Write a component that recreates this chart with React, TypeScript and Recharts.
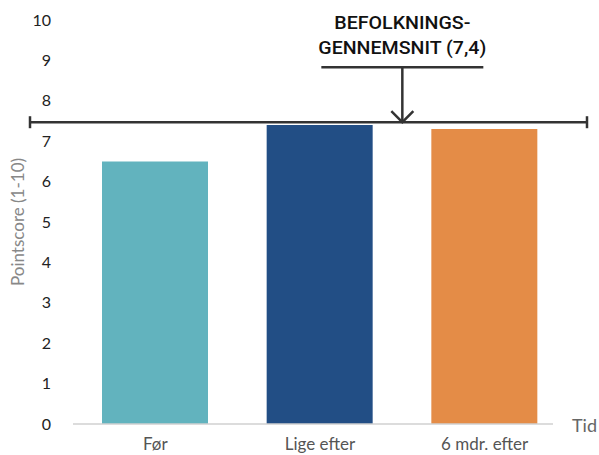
import React from "react";
import {
  BarChart,
  Bar,
  XAxis,
  YAxis,
  Cell,
  ReferenceLine,
  Label,
} from "recharts";

const categories = ["Før", "Lige efter", "6 mdr. efter"];
const scores = [6.5, 7.4, 7.3];
const yTicks = [0, 1, 2, 3, 4, 5, 6, 7, 8, 9, 10];
const averageLine = 7.47;
const averageText = ["BEFOLKNINGS-", "GENNEMSNIT (7,4)"];

const BAR_COLORS = ["#62b3be", "#224e85", "#e48c47"];
const TEXT_FONT = "Lato, 'Open Sans', sans-serif";

const data = categories.map((name, i) => ({ name, value: scores[i] }));

const AverageShape = (props: any) => {
  const { x1, x2, y1 } = props;
  const left = x1 - 43;
  const right = x2 + 34;
  // arrow points at the gap between the 2nd and 3rd bar
  const arrowX = x1 + ((x2 + 14 - x1) * 2) / 3;
  const barTop = y1 - 55;
  const stroke = "#333";
  return (
    <g>
      <line x1={left} x2={right} y1={y1} y2={y1} stroke={stroke} strokeWidth={2.5} />
      <line x1={left} x2={left} y1={y1 - 6} y2={y1 + 6} stroke={stroke} strokeWidth={2.5} />
      <line x1={right} x2={right} y1={y1 - 6} y2={y1 + 6} stroke={stroke} strokeWidth={2.5} />
      <line x1={arrowX - 81} x2={arrowX + 81} y1={barTop} y2={barTop} stroke={stroke} strokeWidth={2.5} />
      <line x1={arrowX} x2={arrowX} y1={barTop} y2={y1} stroke={stroke} strokeWidth={2.5} />
      <polyline
        points={`${arrowX - 11},${y1 - 11} ${arrowX},${y1} ${arrowX + 11},${y1 - 11}`}
        fill="none"
        stroke={stroke}
        strokeWidth={2.5}
      />
      <text
        textAnchor="middle"
        fontFamily="Roboto, 'DejaVu Sans', sans-serif"
        fontWeight={500}
        fontSize={19}
        fill="#111"
      >
        <tspan x={arrowX} y={y1 - 93} textLength={136} lengthAdjust="spacingAndGlyphs">
          {averageText[0]}
        </tspan>
        <tspan x={arrowX} y={y1 - 68} textLength={168} lengthAdjust="spacingAndGlyphs">
          {averageText[1]}
        </tspan>
      </text>
    </g>
  );
};

export default function App() {
  return (
    <div style={{ position: "absolute", left: 0, top: 0, background: "#fff" }}>
      <BarChart
        width={599}
        height={455}
        data={data}
        margin={{ top: 20, right: 46, left: 0, bottom: 0 }}
      >
        <XAxis
          dataKey="name"
          height={31}
          padding={{ left: 0, right: -14 }}
          axisLine={{ stroke: "#d0d0d0", strokeWidth: 1.5 }}
          tickLine={false}
          tickMargin={8}
          tick={{ fill: "#555", fontSize: 17, fontFamily: TEXT_FONT }}
        >
          <Label
            value="Tid"
            position="right"
            offset={19}
            dy={-14}
            fill="#666"
            fontSize={18}
            fontFamily={TEXT_FONT}
          />
        </XAxis>
        <YAxis
          width={73}
          domain={[0, 10]}
          ticks={yTicks}
          interval={0}
          axisLine={false}
          tickLine={false}
          tickMargin={16}
          tick={{ fill: "#222", fontSize: 16, fontFamily: TEXT_FONT }}
        >
          <Label
            value="Pointscore (1-10)"
            angle={-90}
            position="insideLeft"
            offset={18}
            style={{ textAnchor: "middle" }}
            fill="#888"
            fontSize={17}
            fontFamily={TEXT_FONT}
          />
        </YAxis>
        <Bar dataKey="value" barSize={106} isAnimationActive={false}>
          {data.map((d, i) => (
            <Cell key={d.name} fill={BAR_COLORS[i]} />
          ))}
        </Bar>
        <ReferenceLine y={averageLine} ifOverflow="visible" shape={AverageShape} />
      </BarChart>
    </div>
  );
}
